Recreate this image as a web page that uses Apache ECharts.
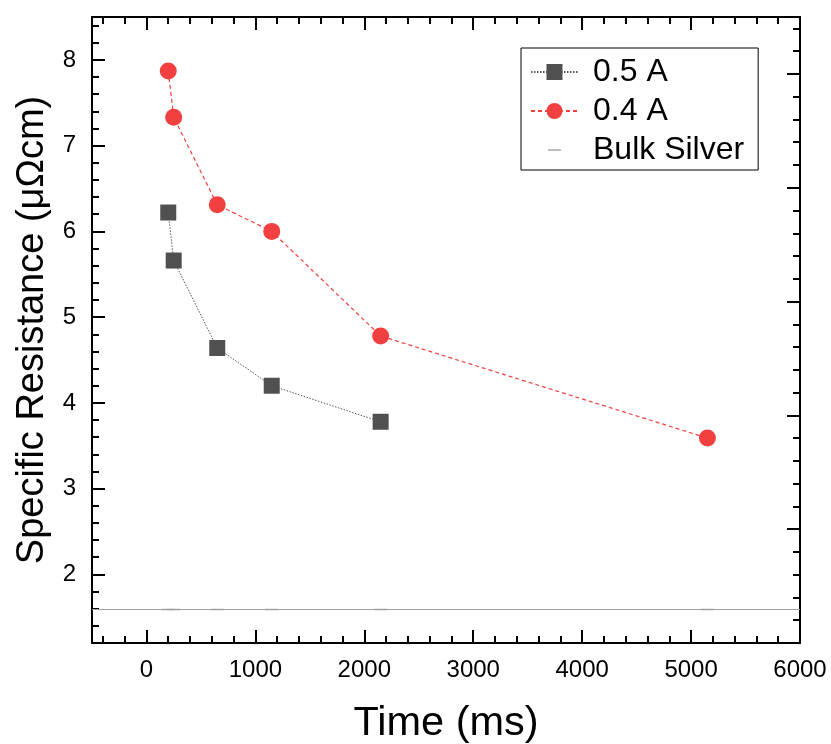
<!DOCTYPE html>
<html>
<head>
<meta charset="utf-8">
<title>Specific Resistance vs Time</title>
<script src="https://cdn.jsdelivr.net/npm/echarts@6/dist/echarts.min.js"></script>
<style>
  html, body { margin: 0; padding: 0; background: #fff; }
  #chart { width: 831px; height: 744px; }
</style>
</head>
<body>
<div id="chart"></div>
<script>
// values
const times05 = [200, 250, 650, 1150, 2150];
const res05 = [6.22, 5.66, 4.64, 4.20, 3.78];
const times04 = [200, 250, 650, 1150, 2150, 5150];
const res04 = [7.87, 7.33, 6.31, 6.00, 4.78, 3.59];
const bulkSilver = 1.59;

// tick labels
const xTicks = [0, 1000, 2000, 3000, 4000, 5000, 6000];
const yTicks = [2, 3, 4, 5, 6, 7, 8];
const rightTicks = [0, 1, 2, 3, 4, 5];

const font = 'Liberation Sans, Arial, sans-serif';

const stepTicks = (from, to, step) => {
  const out = [];
  for (let v = from; v <= to + 1e-9; v += step) out.push(Math.round(v * 1000) / 1000);
  return out;
};
const xMinor = stepTicks(-400, 6000, 200);
const yMinor = stepTicks(1.4, 8.4, 0.2);
const rightMinor = stepTicks(0, 5.4, 0.2);

const frameLine = { show: true, onZero: false, lineStyle: { color: '#000', width: 2 } };
const noLine = { show: false, onZero: false };
const tickStyle = { color: '#000', width: 2 };

// one axis layer per tick length: majors (long) and minors (short)
const layer = (base, values, len, extra) => Object.assign({
  type: 'value',
  axisLine: noLine,
  splitLine: { show: false },
  axisLabel: { show: false },
  axisTick: { show: true, inside: true, length: len, customValues: values, lineStyle: tickStyle }
}, base, extra || {});

const chart = echarts.init(document.getElementById('chart'));

const option = {
  animation: false,
  backgroundColor: '#fff',
  grid: { left: 92, right: 31, top: 17, bottom: 101, outerBoundsMode: 'none', containLabel: false },
  legend: {
    orient: 'vertical',
    left: 521,
    top: 48,
    padding: [8, 14, 4, 9],
    itemGap: 7,
    itemWidth: 47,
    itemHeight: 20,
    borderColor: '#000',
    borderWidth: 1,
    borderRadius: 0,
    backgroundColor: '#fff',
    textStyle: { fontSize: 32, color: '#000', fontFamily: font, padding: [0, 0, 0, 10] },
    data: [
      '0.5 A',
      '0.4 A',
      {
        name: 'Bulk Silver',
        icon: 'path://M0,0L0.1,0M47,20L47.1,20M17,9h13v2h-13z',
        itemStyle: { color: '#bdbdbd', borderWidth: 0 }
      }
    ]
  },
  xAxis: [
    layer({ min: -500, max: 6000, position: 'bottom' }, xTicks, 13, {
      axisLine: frameLine,
      axisLabel: {
        show: true, customValues: xTicks, margin: 15, fontSize: 24, color: '#000', fontFamily: font,
        formatter: v => String(v)
      },
      name: 'Time (ms)',
      nameLocation: 'middle',
      nameGap: 60,
      nameTextStyle: { fontSize: 41.5, color: '#000', fontFamily: font }
    }),
    layer({ min: -500, max: 6000, position: 'bottom' }, xMinor, 7),
    layer({ min: -500, max: 6000, position: 'top' }, xTicks, 13, { axisLine: frameLine }),
    layer({ min: -500, max: 6000, position: 'top' }, xMinor, 7)
  ],
  yAxis: [
    layer({ min: 1.2, max: 8.5, position: 'left' }, yTicks, 13, {
      axisLine: frameLine,
      axisLabel: {
        show: true, customValues: yTicks, margin: 16, fontSize: 24, color: '#000', fontFamily: font,
        formatter: v => String(v)
      },
      name: 'Specific Resistance (μΩcm)',
      nameLocation: 'middle',
      nameGap: 40,
      nameTextStyle: { fontSize: 38, color: '#000', fontFamily: font }
    }),
    layer({ min: 1.2, max: 8.5, position: 'left' }, yMinor, 7),
    layer({ min: 0, max: 5.5, position: 'right' }, rightTicks, 13, { axisLine: frameLine }),
    layer({ min: 0, max: 5.5, position: 'right' }, rightMinor, 7)
  ],
  series: [
    {
      name: 'Bulk Silver',
      type: 'line',
      z: 1,
      data: times04.map(t => [t, bulkSilver]),
      symbol: 'rect',
      symbolSize: [13, 2],
      itemStyle: { color: '#d0d0d0' },
      lineStyle: { width: 0, opacity: 0 },
      markLine: {
        silent: true,
        symbol: 'none',
        label: { show: false },
        lineStyle: { color: '#a0a0a0', width: 1, type: 'solid' },
        data: [{ yAxis: bulkSilver }]
      }
    },
    {
      name: '0.5 A',
      type: 'line',
      z: 3,
      data: times05.map((t, i) => [t, res05[i]]),
      symbol: 'rect',
      symbolSize: 16,
      itemStyle: { color: '#505050', borderWidth: 0 },
      lineStyle: { color: '#555', width: 1, type: [1.5, 1.5] }
    },
    {
      name: '0.4 A',
      type: 'line',
      z: 3,
      data: times04.map((t, i) => [t, res04[i]]),
      symbol: 'circle',
      symbolSize: 17,
      itemStyle: { color: '#f24040', borderWidth: 0 },
      lineStyle: { color: '#f24040', width: 1.2, type: [4, 3] }
    }
  ]
};

chart.setOption(option);
</script>
</body>
</html>
